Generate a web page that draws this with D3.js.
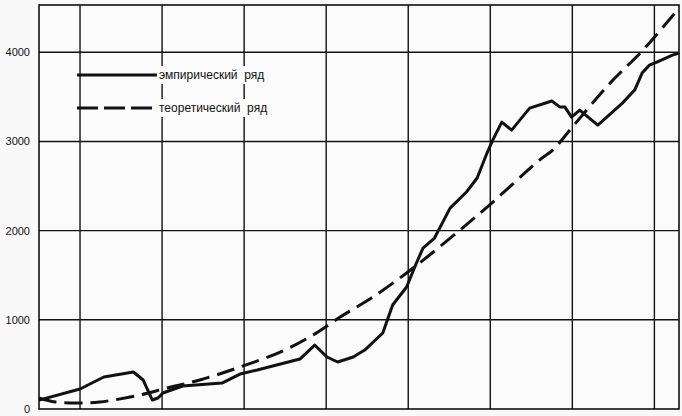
<!DOCTYPE html>
<html>
<head>
<meta charset="utf-8">
<script src="https://cdn.jsdelivr.net/npm/d3@7"></script>
<style>
  html, body { margin: 0; padding: 0; background: #f9f9f9; }
  svg { display: block; }
</style>
</head>
<body>
<svg id="chart" width="682" height="416"></svg>
<script>
// ---- data ----
const empT = [0, 5, 7.9, 11.5, 12.7, 13.8, 14.5, 15.1, 17.5, 22.3, 24.5, 26.6, 31.8, 33.6, 35.1, 36.4, 38.3, 39.7, 41.9, 43.1, 44.8, 46.0, 46.8, 48.2, 50.1, 52.1, 53.4, 54.6, 55.3, 56.4, 57.6, 59.8, 62.5, 63.5, 64.1, 64.9, 65.9, 68.1, 69.2, 71.1, 72.6, 73.5, 74.4, 75.3, 77.2, 78];
const empV = [100, 224, 359, 415, 325, 101, 123, 179, 258, 291, 392, 437, 560, 717, 583, 527, 583, 661, 852, 1166, 1368, 1637, 1805, 1917, 2253, 2433, 2590, 2870, 3015, 3217, 3127, 3374, 3453, 3385, 3385, 3273, 3352, 3184, 3273, 3430, 3576, 3767, 3856, 3890, 3968, 3991];

const theoT = [0, 2, 5, 7.4, 12.3, 15.6, 19.6, 24.5, 29.4, 33.4, 36.7, 40.7, 44.8, 47.3, 51.6, 54.9, 61.0, 62.6, 65.0, 69.6, 73.6, 78];
const theoV = [123, 78, 67, 78, 157, 235, 325, 471, 639, 830, 1031, 1256, 1525, 1704, 2029, 2287, 2791, 2903, 3161, 3654, 4024, 4495];

const yTicks = [0, 1000, 2000, 3000, 4000];
const xGrid = [5, 15, 25, 35, 45, 55, 65, 75];
const legendLabels = ["эмпирический  ряд", "теоретический  ряд"];

// ---- layout ----
const svg = d3.select("#chart");
const pLeft = 39, pRight = 679, pTop = 5, pBottom = 409;

const x = d3.scaleLinear().domain([0, 78]).range([pLeft, pRight]);
const y = d3.scaleLinear().domain([0, 4530]).range([pBottom, pTop]);

const ink = "#111";

// plot background
svg.append("rect").attr("x", pLeft).attr("y", pTop)
  .attr("width", pRight - pLeft).attr("height", pBottom - pTop)
  .attr("fill", "#fbfbfb");

// grid
const g = svg.append("g");
g.selectAll("line.h").data(yTicks.filter(d => d > 0)).join("line")
  .attr("x1", pLeft).attr("x2", pRight)
  .attr("y1", d => y(d)).attr("y2", d => y(d))
  .attr("stroke", ink).attr("stroke-width", 1.4);
g.selectAll("line.v").data(xGrid).join("line")
  .attr("y1", pTop).attr("y2", pBottom)
  .attr("x1", d => x(d)).attr("x2", d => x(d))
  .attr("stroke", ink).attr("stroke-width", 1.4);

// y axis labels
const yAxis = d3.axisLeft(y).tickValues(yTicks).tickSize(0).tickPadding(9).tickFormat(d3.format("d"));
const ya = svg.append("g").attr("transform", `translate(${pLeft},0)`).call(yAxis);
ya.select(".domain").remove();
ya.selectAll("text").attr("font-family", "Liberation Sans, Arial, sans-serif")
  .attr("font-size", 11).attr("fill", ink);

// legend (white boxes behind text)
const legY = [75, 108];
const lg = svg.append("g");
legendLabels.forEach((lab, i) => {
  const t = lg.append("text").attr("x", 159).attr("y", legY[i] + 4)
    .attr("font-family", "Liberation Sans, Arial, sans-serif")
    .attr("font-size", 12).attr("fill", ink)
    .attr("xml:space", "preserve").style("white-space", "pre").text(lab);
  const bb = t.node().getBBox();
  lg.insert("rect", "text").attr("x", bb.x - 1).attr("y", bb.y - 2)
    .attr("width", bb.width + 3).attr("height", bb.height + 4).attr("fill", "#fbfbfb");
});
lg.append("line").attr("x1", 77).attr("x2", 157).attr("y1", legY[0]).attr("y2", legY[0])
  .attr("stroke", ink).attr("stroke-width", 3);
lg.append("line").attr("x1", 77).attr("x2", 157).attr("y1", legY[1]).attr("y2", legY[1])
  .attr("stroke", ink).attr("stroke-width", 3).attr("stroke-dasharray", "21,6");

// frame
svg.append("rect").attr("x", pLeft).attr("y", pTop)
  .attr("width", pRight - pLeft).attr("height", pBottom - pTop)
  .attr("fill", "none").attr("stroke", ink).attr("stroke-width", 1.6);

// series
const theo = theoT.map((t, i) => [t, theoV[i]]);
const emp = empT.map((t, i) => [t, empV[i]]);

svg.append("path").datum(theo)
  .attr("d", d3.line().x(d => x(d[0])).y(d => y(d[1])).curve(d3.curveCatmullRom))
  .attr("fill", "none").attr("stroke", ink).attr("stroke-width", 3)
  .attr("stroke-dasharray", "18,8");

svg.append("path").datum(emp)
  .attr("d", d3.line().x(d => x(d[0])).y(d => y(d[1])))
  .attr("fill", "none").attr("stroke", ink).attr("stroke-width", 3)
  .attr("stroke-linejoin", "round");
</script>
</body>
</html>
